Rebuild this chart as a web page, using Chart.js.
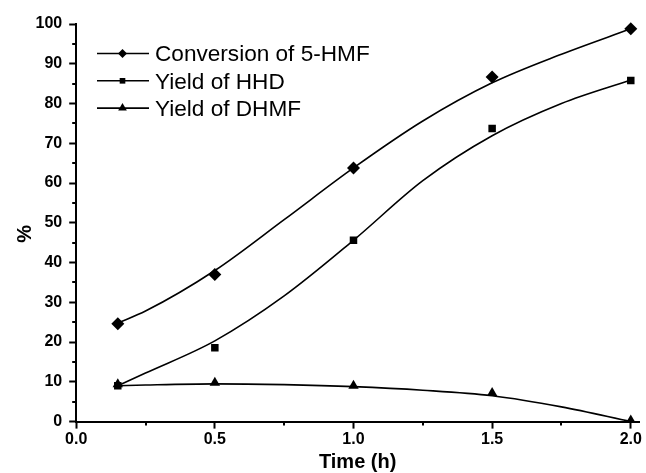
<!DOCTYPE html>
<html>
<head>
<meta charset="utf-8">
<script src="https://cdn.jsdelivr.net/npm/chart.js@4/dist/chart.umd.min.js"></script>
<style>
  html, body { margin: 0; padding: 0; background: #fff; }
  #wrap { width: 646px; height: 473px; position: relative; }
</style>
</head>
<body>
<div id="wrap"><canvas id="grafico"></canvas></div>
<script>
// puntos medidos
const tiempo = [0.15, 0.5, 1.0, 1.5, 2.0];
const conversion = [24.6, 37.0, 63.8, 86.7, 98.8];
const rendHHD = [9.0, 18.6, 45.6, 73.7, 85.8];
const rendDHMF = [9.4, 9.8, 9.0, 7.2, 0.3];

// curvas de ajuste
const tiempoAjuste = [0.15, 0.25, 0.5, 0.75, 1.0, 1.25, 1.5, 1.75, 2.0];
const ajusteConversion = [24.8, 27.8, 38.0, 50.8, 63.8, 75.6, 85.2, 92.4, 98.8];
const ajusteHHD = [9.0, 12.2, 20.3, 31.6, 45.6, 60.6, 71.9, 80.0, 85.9];
const ajusteDHMF = [9.0, 9.2, 9.5, 9.3, 8.8, 7.9, 6.5, 3.7, 0.0];

const nombres = ['Conversion of 5-HMF', 'Yield of HHD', 'Yield of DHMF'];
const marcadores = ['rectRot', 'rect', 'triangle'];
const radios = [6.5, 5.3, 6];

const ticksMenoresX = [0.25, 0.75, 1.25, 1.75];
const ticksMenoresY = [5, 15, 25, 35, 45, 55, 65, 75, 85, 95];

function puntos(xs, ys) {
    return xs.map((x, i) => ({ x: x, y: ys[i] }));
}

const series = [
    { medidos: conversion, ajuste: ajusteConversion },
    { medidos: rendHHD, ajuste: ajusteHHD },
    { medidos: rendDHMF, ajuste: ajusteDHMF }
];

const datasets = [];
series.forEach((s, i) => {
    datasets.push({
        label: nombres[i] + ' ajuste',
        data: puntos(tiempoAjuste, s.ajuste),
        showLine: true,
        borderColor: '#000',
        borderWidth: 1.6,
        pointRadius: 0,
        cubicInterpolationMode: 'monotone',
        fill: false
    });
    datasets.push({
        label: nombres[i],
        data: puntos(tiempo, s.medidos),
        showLine: false,
        pointStyle: marcadores[i],
        pointRadius: radios[i],
        backgroundColor: '#000',
        borderColor: '#000',
        borderWidth: 0,
        clip: { left: 20, top: 20, right: 20, bottom: 0 }
    });
});

// ticks menores (mas cortos que los mayores)
const ticksMenores = {
    id: 'ticksMenores',
    afterDraw(chart) {
        const ctx = chart.ctx;
        const sx = chart.scales.x, sy = chart.scales.y;
        ctx.save();
        ctx.strokeStyle = '#000';
        ctx.lineWidth = 2;
        ctx.beginPath();
        ticksMenoresX.forEach(v => {
            const px = Math.round(sx.getPixelForValue(v));
            ctx.moveTo(px, sy.bottom);
            ctx.lineTo(px, sy.bottom + 4);
        });
        ticksMenoresY.forEach(v => {
            const py = Math.round(sy.getPixelForValue(v));
            ctx.moveTo(sx.left, py);
            ctx.lineTo(sx.left - 4, py);
        });
        ctx.stroke();
        ctx.restore();
    }
};

// leyenda dentro del area del grafico
const leyenda = {
    id: 'leyenda',
    afterDatasetsDraw(chart) {
        const ctx = chart.ctx;
        const radiosLeyenda = [4.5, 4, 5];
        ctx.save();
        nombres.forEach((n, i) => {
            const y = 53.5 + i * 27.3;
            ctx.strokeStyle = '#000';
            ctx.lineWidth = 1.6;
            ctx.beginPath();
            ctx.moveTo(97, y);
            ctx.lineTo(149, y);
            ctx.stroke();
            ctx.fillStyle = '#000';
            Chart.helpers.drawPoint(ctx, {
                pointStyle: marcadores[i],
                radius: radiosLeyenda[i],
                borderWidth: 0,
                rotation: 0
            }, 122.5, y);
            ctx.fillStyle = '#000';
            ctx.font = '22.6px "Liberation Sans", Arial, sans-serif';
            ctx.textBaseline = 'alphabetic';
            ctx.textAlign = 'left';
            ctx.fillText(n, 155, y + 7.8);
        });
        ctx.restore();
    }
};

new Chart(document.getElementById('grafico'), {
    type: 'scatter',
    data: { datasets: datasets },
    plugins: [ticksMenores, leyenda],
    options: {
        responsive: true,
        maintainAspectRatio: false,
        animation: false,
        layout: { padding: { left: 0, top: 24, right: 0, bottom: 0 } },
        plugins: {
            legend: { display: false },
            tooltip: { enabled: false }
        },
        scales: {
            x: {
                type: 'linear',
                min: 0,
                max: 2.03,
                grid: {
                    drawOnChartArea: false,
                    drawTicks: true,
                    tickLength: 7,
                    tickWidth: 2,
                    tickColor: '#000'
                },
                border: { display: true, color: '#000', width: 2 },
                ticks: {
                    stepSize: 0.5,
                    includeBounds: false,
                    maxRotation: 0,
                    padding: 4,
                    color: '#000',
                    font: { family: '"Liberation Sans", Arial, sans-serif', size: 16, weight: 'bold', lineHeight: 0.9 },
                    callback: v => v.toFixed(1)
                },
                title: {
                    display: true,
                    text: 'Time (h)',
                    color: '#000',
                    padding: { top: 0, bottom: 0 },
                    font: { family: '"Liberation Sans", Arial, sans-serif', size: 20, weight: 'bold', lineHeight: 1.1 }
                }
            },
            y: {
                min: 0,
                max: 100,
                grid: {
                    drawOnChartArea: false,
                    drawTicks: true,
                    tickLength: 7,
                    tickWidth: 2,
                    tickColor: '#000'
                },
                border: { display: true, color: '#000', width: 2 },
                ticks: {
                    stepSize: 10,
                    padding: 7,
                    color: '#000',
                    font: { family: '"Liberation Sans", Arial, sans-serif', size: 16, weight: 'bold' }
                },
                title: {
                    display: true,
                    text: '%    ',
                    color: '#000',
                    padding: { top: 15, bottom: -6.5 },
                    font: { family: '"Liberation Sans", Arial, sans-serif', size: 20, weight: 'bold', lineHeight: 1 }
                }
            }
        }
    }
});
</script>
</body>
</html>
